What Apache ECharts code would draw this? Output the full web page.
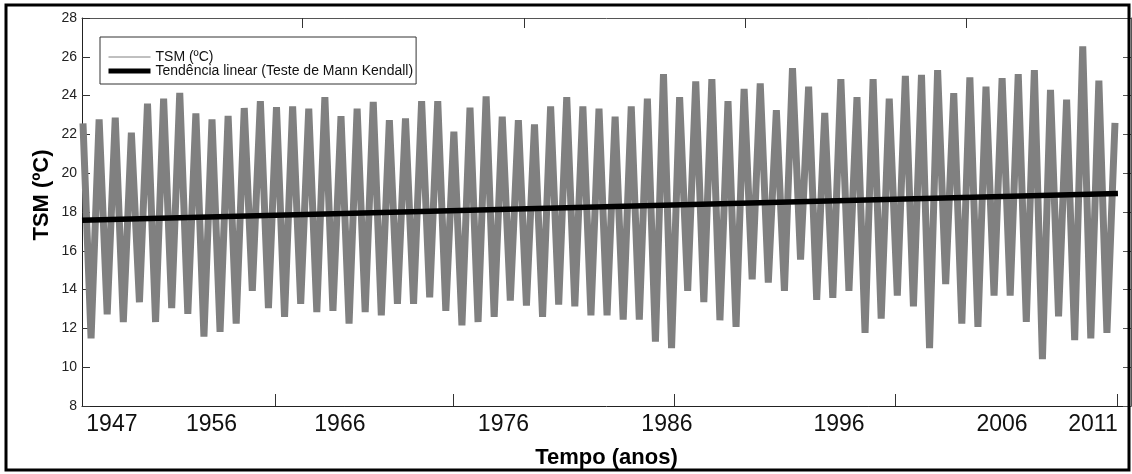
<!DOCTYPE html>
<html><head><meta charset="utf-8">
<script src="https://cdn.jsdelivr.net/npm/echarts@6/dist/echarts.min.js"></script>
<style>html,body{margin:0;padding:0;background:#fff}#c{width:1132px;height:474px}</style>
</head><body><div id="c"></div>
<script>
// ---- data ----
const years = [1947,1948,1949,1950,1951,1952,1953,1954,1955,1956,1957,1958,1959,1960,1961,1962,1963,1964,1965,1966,
  1967,1968,1969,1970,1971,1972,1973,1974,1975,1976,1977,1978,1979,1980,1981,1982,1983,1984,1985,1986,
  1987,1988,1989,1990,1991,1992,1993,1994,1995,1996,1997,1998,1999,2000,2001,2002,2003,2004,2005,2006,
  2007,2008,2009,2010,2011];
// summer maxima (one per year)
const peaks = [22.57,22.77,22.87,22.09,23.58,23.84,24.14,23.08,22.77,22.96,23.36,23.72,23.41,23.45,23.33,23.92,22.94,23.33,23.67,22.74,
  22.82,23.72,23.72,22.14,23.38,23.96,22.91,22.74,22.52,23.45,23.92,23.45,23.33,22.91,23.45,23.84,25.11,23.92,24.73,24.85,
  23.72,24.35,24.63,23.25,25.41,24.46,23.11,24.85,23.92,24.85,23.84,25.02,25.07,25.31,24.13,24.94,24.46,24.90,25.11,25.31,
  24.30,23.79,26.54,24.77,22.60];
// winter minima (one per year)
const troughs = [11.49,12.72,12.33,13.35,12.33,13.04,12.75,11.57,11.82,12.25,13.94,13.04,12.59,13.26,12.84,12.90,12.25,12.84,12.67,13.26,
  13.26,13.60,12.90,12.16,12.33,12.59,13.43,13.18,12.59,13.23,13.13,12.67,12.67,12.45,12.45,11.32,10.98,13.94,13.35,12.42,
  12.08,14.53,14.36,13.94,15.55,13.47,13.57,13.94,11.77,12.50,13.69,13.13,10.98,14.28,12.25,12.08,13.69,13.69,12.33,10.42,
  12.62,11.40,11.49,11.77];
// linear trend (Mann-Kendall) start / end values
const trend = [17.58, 18.96];
const xLabels = ['1947','1956','1966','1976','1986','1996','2006','2011'];

// ---- layout (axis values where ticks / labels sit in the reference) ----
const PEAK_T = 2/12, TROUGH_T = 8/12;
const X_MIN = 1947.105, X_MAX = 2012.16, TREND_END = 2011.35;
const xLabelAt = [1948.96, 1955.14, 1963.10, 1973.24, 1983.38, 1994.05, 2004.16, 2009.80];
const bottomTickAt = [1959.07, 1970.11, 1983.82, 1997.52, 2011.29];
const topTickAt = [1960.75, 1974.52, 1988.22, 2001.93];

const tsm = [];
years.forEach((y, i) => {
  tsm.push([y + PEAK_T, peaks[i]]);
  if (i < troughs.length) tsm.push([y + TROUGH_T, troughs[i]]);
});
const trendData = [[X_MIN, trend[0]], [TREND_END, trend[1]]];

const FONT = 'Liberation Sans, Arial, sans-serif';
const chart = echarts.init(document.getElementById('c'), null, {renderer: 'canvas'});
chart.setOption({
  animation: false,
  backgroundColor: '#fff',
  grid: {left: 82, top: 18, right: 1, bottom: 62, containLabel: false},
  xAxis: [{
    type: 'value', min: X_MIN, max: X_MAX, position: 'bottom',
    axisLine: {show: true, onZero: false, lineStyle: {color: '#222', width: 1}},
    axisTick: {show: true, inside: true, length: 12, customValues: bottomTickAt, lineStyle: {color: '#333'}},
    axisLabel: {show: true, customValues: xLabelAt, margin: 7, fontSize: 23, color: '#111', fontFamily: FONT,
      formatter: v => { let b = 0; xLabelAt.forEach((p, i) => { if (Math.abs(p - v) < Math.abs(xLabelAt[b] - v)) b = i; }); return xLabels[b]; }},
    splitLine: {show: false},
    name: 'Tempo (anos)', nameLocation: 'middle', nameGap: 41,
    nameTextStyle: {fontSize: 22, fontWeight: 'bold', color: '#000', fontFamily: FONT}
  }, {
    type: 'value', min: X_MIN, max: X_MAX, position: 'top',
    axisLine: {show: true, onZero: false, lineStyle: {color: '#555', width: 1}},
    axisTick: {show: true, inside: true, length: 10, customValues: topTickAt, lineStyle: {color: '#333'}},
    axisLabel: {show: false}, splitLine: {show: false}
  }],
  yAxis: [{
    type: 'value', min: 8, max: 28, interval: 2, position: 'left',
    axisLine: {show: true, onZero: false, lineStyle: {color: '#222', width: 1}},
    axisTick: {show: true, inside: true, length: 8, lineStyle: {color: '#333'}},
    axisLabel: {margin: 5, fontSize: 14, color: '#222', fontFamily: FONT},
    splitLine: {show: false}
  }, {
    type: 'value', min: 8, max: 28, interval: 2, position: 'right',
    axisLine: {show: true, onZero: false, lineStyle: {color: '#555', width: 1}},
    axisTick: {show: true, inside: true, length: 8, lineStyle: {color: '#555'}},
    axisLabel: {show: false}, splitLine: {show: false}
  }],
  legend: {
    orient: 'vertical', left: 100, top: 37,
    padding: [13, 3, 6, 6], itemGap: 0, itemWidth: 42, itemHeight: 13,
    backgroundColor: '#fff', borderColor: '#333', borderWidth: 1,
    itemStyle: {opacity: 0},
    textStyle: {fontSize: 14, lineHeight: 13, color: '#111', fontFamily: FONT},
    data: [
      {name: 'TSM (ºC)', itemStyle: {opacity: 0}, lineStyle: {width: 1, color: '#808080'}},
      {name: 'Tendência linear (Teste de Mann Kendall)', itemStyle: {opacity: 0}, lineStyle: {width: 5, color: '#000'}}
    ]
  },
  series: [{
    name: 'TSM (ºC)', type: 'line', data: tsm, symbol: 'none', z: 2,
    itemStyle: {color: '#808080'},
    lineStyle: {color: '#808080', width: 7, join: 'bevel'}
  }, {
    name: 'Tendência linear (Teste de Mann Kendall)', type: 'line', data: trendData, symbol: 'none', z: 3,
    itemStyle: {color: '#000'},
    lineStyle: {color: '#000', width: 5.5, cap: 'butt'}
  }],
  graphic: [{
    type: 'text', x: 42, y: 195, rotation: Math.PI / 2,
    style: {text: 'TSM (ºC)', font: 'bold 22px ' + FONT, fill: '#000', textAlign: 'center', textVerticalAlign: 'middle'}
  }, {
    type: 'rect', shape: {x: 6, y: 5, width: 1123, height: 465},
    style: {fill: 'none', stroke: '#000', lineWidth: 3}, silent: true, z: 100
  }]
});
</script></body></html>
